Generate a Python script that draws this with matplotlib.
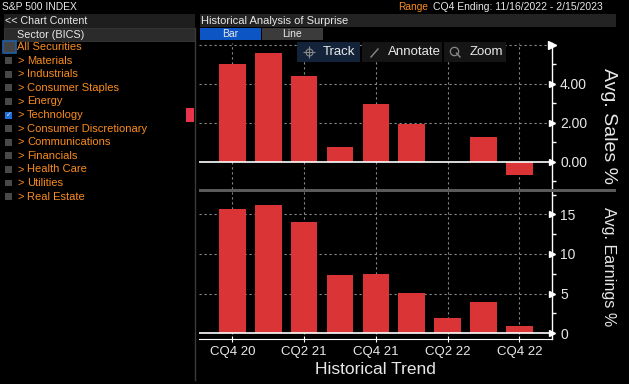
import numpy as np
import matplotlib
matplotlib.use('Agg')
import matplotlib.pyplot as plt
from matplotlib.patches import Rectangle

plt.rcParams['font.family'] = ['Liberation Sans', 'DejaVu Sans']

# data
quarters = ['CQ4 20', 'CQ1 21', 'CQ2 21', 'CQ3 21', 'CQ4 21',
            'CQ1 22', 'CQ2 22', 'CQ3 22', 'CQ4 22']
sales = [5.01, 5.56, 4.39, 0.75, 2.96, 1.93, 0.0, 1.27, -0.68]
earnings = [15.67, 16.18, 14.03, 7.35, 7.48, 5.08, 1.93, 3.95, 0.92]
sales_ticks = [0, 2, 4]
sales_labels = ['0.00', '2.00', '4.00']
earn_ticks = [0, 5, 10, 15]
sectors = ['All Securities', 'Materials', 'Industrials', 'Consumer Staples',
           'Energy', 'Technology', 'Consumer Discretionary', 'Communications',
           'Financials', 'Health Care', 'Utilities', 'Real Estate']
checked = 'Technology'

W, H = 629, 384
BAR = '#db3436'
ORANGE = '#fa8c1e'
GRID = '#8a8a8a'
TXT = '#e8e8e8'

fig = plt.figure(figsize=(W / 100, H / 100), dpi=100, facecolor='black')


def fx(x):
    return x / W


def fy(y):
    return 1 - y / H


def box(x0, y0, x1, y1, color, **kw):
    fig.patches.append(Rectangle((fx(x0), fy(y1)), (x1 - x0) / W, (y1 - y0) / H,
                                 transform=fig.transFigure, facecolor=color,
                                 edgecolor=kw.pop('ec', 'none'), **kw))


def txt(x, y, s, **kw):
    kw.setdefault('color', TXT)
    kw.setdefault('fontsize', 8)
    kw.setdefault('va', 'center')
    fig.text(fx(x), fy(y), s, **kw)


# header strips
box(4, 14, 195, 28, '#1e1e1e')
box(200, 14, 616, 27, '#232323')
box(4, 28, 195, 41, '#2b2b2b', ec='#3a3a3a', lw=0.6)
box(200, 28, 261, 40, '#0b55c4')
box(262, 28, 323, 40, '#3b3b3b')
txt(2, 7, 'S&P 500 INDEX', fontsize=7.4)
txt(398, 7, 'Range', color=ORANGE, fontsize=7.3)
txt(433, 7, 'CQ4 Ending: 11/16/2022 - 2/15/2023', fontsize=7.5)
txt(5, 21, '<< Chart Content', fontsize=7.7)
txt(201, 20.5, 'Historical Analysis of Surprise', fontsize=8)
txt(17, 34.5, 'Sector (BICS)', fontsize=7.8)
txt(230.5, 34, 'Bar', fontsize=7.5, ha='center')
txt(292, 34, 'Line', fontsize=7.5, ha='center')

# sector list
fig.lines.append(plt.Line2D([fx(194.5)] * 2, [fy(28), fy(380)],
                            transform=fig.transFigure, color='#3a3a3a', lw=1))
for i, name in enumerate(sectors):
    y = 47 + i * 13.6
    if i == 0:
        box(3, y - 6, 16, y + 6, '#444444', ec='#1f5fa8', lw=1.2)
        txt(17, y, name, color=ORANGE, fontsize=8)
        continue
    if name == checked:
        box(5, y - 3.5, 12, y + 3.5, '#1e6fe0')
        txt(8.5, y, '\u2713', fontsize=5, ha='center')
    else:
        box(5, y - 3.5, 12, y + 3.5, '#484848')
    txt(17, y, '>', color=ORANGE, fontsize=8)
    txt(27, y, name, color=ORANGE, fontsize=8)
box(186, 108, 194, 122, '#e8344a')

# the two chart panels
x0, x1 = 199, 551.7
ax1 = fig.add_axes([fx(x0), fy(189), (x1 - x0) / W, (189 - 43) / H])
ax2 = fig.add_axes([fx(x0), fy(339.3), (x1 - x0) / W, (339.3 - 192) / H])
x = np.arange(len(quarters))

panels = [(ax1, sales, (-1.40, 6.09), [6, 4, 2], np.arange(-1, 6.5, 1),
           sales_ticks, sales_labels, 'Avg. Sales %', 14, 0.43),
          (ax2, earnings, (-0.76, 17.82), [15, 10, 5], np.arange(2.5, 18, 2.5),
           earn_ticks, [str(t) for t in earn_ticks], 'Avg. Earnings %', 11.6, 0.49)]

for ax, vals, ylim, hgrid, minors, ticks, labels, ylabel, lsize, ly in panels:
    ax.set_facecolor('black')
    ax.bar(x, vals, width=0.74, color=BAR, zorder=3)
    ax.set_xlim(-0.93, 8.90)
    ax.set_ylim(*ylim)
    for g in hgrid:
        ax.axhline(g, color=GRID, lw=0.8, ls=(0, (2, 2.5)), zorder=1)
    for g in x[::2]:
        ax.axvline(g, color=GRID, lw=0.8, ls=(0, (2, 2.5)), zorder=1)
    ax.axhline(0, color='white', lw=1.2, zorder=4)
    for s in ['left', 'top', 'bottom']:
        ax.spines[s].set_visible(False)
    ax.spines['right'].set_color('white')
    ax.spines['right'].set_linewidth(1)
    ax.yaxis.tick_right()
    ax.set_yticks(ticks)
    ax.set_yticklabels(labels)
    ax.set_yticks(minors, minor=True)
    ax.tick_params(axis='y', which='major', length=0, pad=6, labelsize=10,
                   labelcolor=TXT)
    ax.tick_params(axis='y', which='minor', length=3, width=1, color='white')
    ax.plot([1.0] * len(ticks), ticks, marker='>', ms=5, color='white', ls='none',
            transform=ax.get_yaxis_transform(), clip_on=False, zorder=5)
    ax.text(1.16, ly, ylabel, transform=ax.transAxes, rotation=270,
            ha='center', va='center', color=TXT, fontsize=lsize)

ax1.set_xticks([])
ax1.plot([1.0], [6.0], marker='>', ms=6, color='white',
         transform=ax1.get_yaxis_transform(), clip_on=False, zorder=5)
ax2.spines['bottom'].set_visible(True)
ax2.spines['bottom'].set_color('white')
ax2.set_xticks(x[::2])
ax2.set_xticklabels(quarters[::2])
ax2.tick_params(axis='x', direction='inout', length=5, color='white',
                labelcolor=TXT, labelsize=9.5, pad=2)
ax2.set_xlabel('Historical Trend', color=TXT, fontsize=12.5, labelpad=3)

# splitter between the panels
box(199, 188.7, 616, 192, '#5a5a5a')
box(403, 189.6, 415, 190.2, '#aaaaaa')
box(403, 190.8, 415, 191.4, '#aaaaaa')

# chart toolbar
box(297, 42, 360, 62, '#13233a')
box(362, 42, 442, 62, '#151515')
box(444, 42, 506, 62, '#151515')
fig.lines.append(plt.Line2D([fx(309)], [fy(52)], transform=fig.transFigure,
                            marker='+', ms=9, color='#888888', mew=0.8))
fig.lines.append(plt.Line2D([fx(309)], [fy(52)], transform=fig.transFigure,
                            marker='o', ms=5, mfc='none', color='#888888', mew=0.8))
fig.lines.append(plt.Line2D([fx(371), fx(378)], [fy(57), fy(49)],
                            transform=fig.transFigure, color='#888888', lw=1))
fig.lines.append(plt.Line2D([fx(454)], [fy(50.5)], transform=fig.transFigure,
                            marker='o', ms=6, mfc='none', color='#888888', mew=0.9))
fig.lines.append(plt.Line2D([fx(456.5), fx(460)], [fy(53), fy(57)],
                            transform=fig.transFigure, color='#888888', lw=1))
txt(323, 52, 'Track', fontsize=9.5)
txt(388, 52, 'Annotate', fontsize=9.5)
txt(470, 52, 'Zoom', fontsize=9.5)

fig.savefig('out.png', dpi=100, facecolor='black')
